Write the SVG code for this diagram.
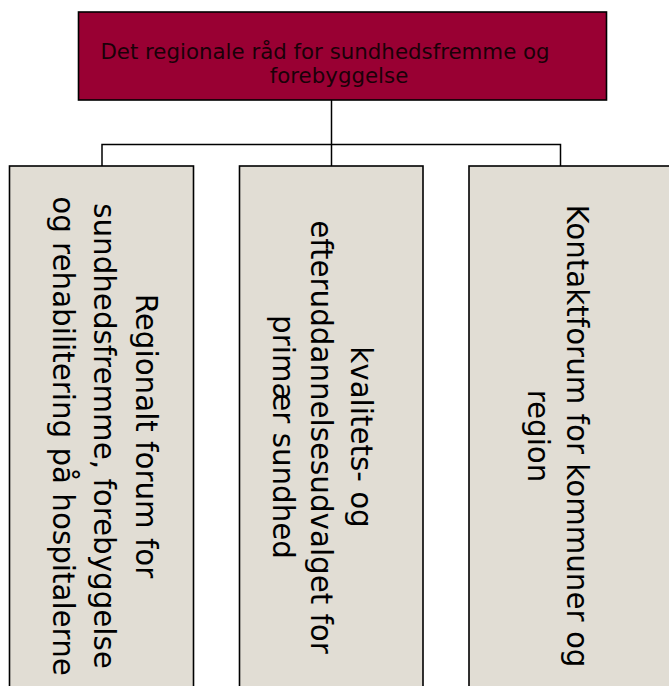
<svg xmlns="http://www.w3.org/2000/svg" width="669" height="686" viewBox="0 0 669 686">
  <style>
    .head { fill: #990033; stroke: #000; stroke-width: 1.6; }
    .unit { fill: #e1ddd4; stroke: #000; stroke-width: 1.6; }
    .link { fill: none; stroke: #000; stroke-width: 1.5; }
    .t-head { font-family: "DejaVu Sans", Verdana, sans-serif; font-size: 21.33px; fill: #1a0008; text-anchor: middle; }
    .t-unit { font-family: "DejaVu Sans", Verdana, sans-serif; font-size: 29.33px; fill: #000; text-anchor: middle; }
  </style>

  <!-- organisation chart connectors -->
  <g id="connectors">
    <path class="link" d="M331.5 100 V144.5"/>
    <path class="link" d="M102 166 V144.5 H560.5 V166"/>
    <path class="link" d="M331.5 144.5 V166"/>
  </g>

  <!-- top node: regional council -->
  <g id="node-council">
    <rect class="head" x="78.5" y="12" width="528" height="88"/>
    <text class="t-head" x="325" y="59">Det regionale råd for sundhedsfremme og</text>
    <text class="t-head" x="339" y="83">forebyggelse</text>
  </g>

  <!-- child node: regional forum -->
  <g id="node-forum">
    <rect class="unit" x="9.5" y="166" width="184" height="530"/>
    <text class="t-unit" transform="translate(136 436) rotate(90)">Regionalt forum for</text>
    <text class="t-unit" transform="translate(94 436) rotate(90)">sundhedsfremme, forebyggelse</text>
    <text class="t-unit" transform="translate(53 436) rotate(90)">og rehabilitering på hospitalerne</text>
  </g>

  <!-- child node: quality and continuing education committee -->
  <g id="node-committee">
    <rect class="unit" x="239.5" y="166" width="183.5" height="530"/>
    <text class="t-unit" transform="translate(351 437) rotate(90)">kvalitets- og</text>
    <text class="t-unit" transform="translate(311 437) rotate(90)">efteruddannelsesudvalget for</text>
    <text class="t-unit" transform="translate(273 437) rotate(90)">primær sundhed</text>
  </g>

  <!-- child node: contact forum -->
  <g id="node-contact">
    <rect class="unit" x="469" y="166" width="220" height="530"/>
    <text class="t-unit" transform="translate(567 436) rotate(90)">Kontaktforum for kommuner og</text>
    <text class="t-unit" transform="translate(528 436) rotate(90)">region</text>
  </g>
</svg>
